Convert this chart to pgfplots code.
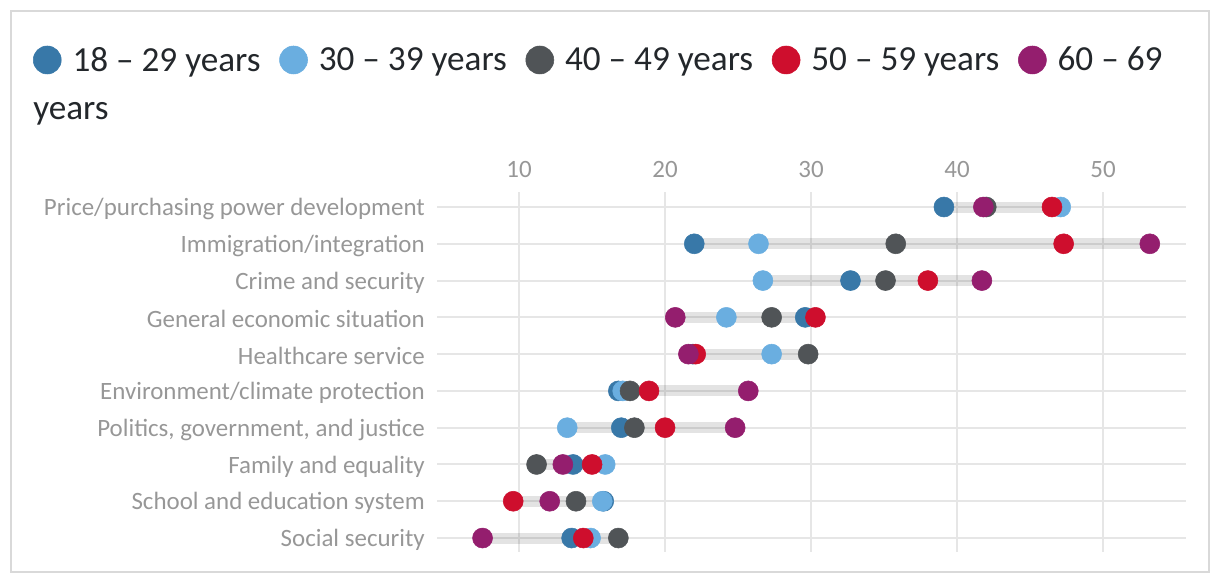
\documentclass[border=0pt]{standalone}
\usepackage{pgfplots}
\pgfplotsset{compat=1.18}
\usepackage{pgfplotstable}
\usepackage{fontspec}
\setmainfont{Carlito}
\definecolor{cA}{HTML}{3878A8}
\definecolor{cB}{HTML}{6AAEE0}
\definecolor{cC}{HTML}{505457}
\definecolor{cD}{HTML}{CE0E2D}
\definecolor{cE}{HTML}{941E6E}
\definecolor{gridc}{HTML}{E6E6E6}
\definecolor{labc}{HTML}{979797}
\definecolor{legc}{HTML}{23272B}
\pgfplotstableread{
row a b c d e
1 39.1 47.1 42.0 46.5 41.8
2 22.0 26.4 35.8 47.3 53.2
3 32.7 26.7 35.1 38.0 41.7
4 29.6 24.2 27.3 30.3 20.7
5 21.9 27.3 29.8 22.1 21.6
6 16.8 17.1 17.6 18.9 25.7
7 17.0 13.3 17.9 20.0 24.8
8 13.7 15.9 11.2 15.0 13.0
9 15.8 15.7 13.9 9.6 12.1
10 13.6 14.9 16.8 14.4 7.5
}\datatable
\begin{document}
\begin{tikzpicture}
\path (0,0) rectangle (915pt,439.5pt);
\draw[color=black!15, line width=1.5pt] (8.25pt,10.5pt) rectangle (906.75pt,431.25pt);
\begin{axis}[
  at={(327.75pt,25.5pt)}, anchor=south west,
  scale only axis, width=561.75pt, height=270pt,
  xmin=4.38, xmax=55.68, ymin=0.592, ymax=10.38, y dir=reverse,
  xtick={10,20,30,40,50}, ytick={1,...,10},
  yticklabels={Price/purchasing power development, Immigration/integration, Crime and security, General economic situation, Healthcare service, Environment/climate protection, {Politics, government, and justice}, Family and equality, School and education system, Social security},
  xticklabel pos=top,
  axis line style={draw=none}, tick style={draw=none}, major tick length=0pt,
  grid=major, grid style={gridc, line width=1.5pt},
  /pgf/number format/assume math mode=true,
  ticklabel style={font=\fontsize{18.7}{22}\selectfont, text=labc},
  yticklabel style={inner sep=0pt, xshift=-9pt, yshift=-1.5pt},
  xticklabel style={inner sep=0pt, anchor=base, yshift=11.25pt},
  clip=false,
  legend columns=5,
  legend style={draw=none, fill=none, at={(-0.5394,1.3667)}, anchor=west, inner sep=0pt, outer sep=0pt,
    font=\fontsize{26.4}{30}\selectfont, text=legc,
    nodes={inner sep=0pt},
    /tikz/every odd column/.append style={column sep=8.25pt},
    /tikz/every even column/.append style={column sep=14pt}},
  legend image code/.code={\fill[#1] (10.5pt,0pt) circle (10.5pt);},
]
\pgfplotsset{barstyle/.style={black, opacity=0.11, line width=8.25pt, forget plot}}
\addplot[barstyle] coordinates {(39.1,1) (47.1,1)};
\addplot[barstyle] coordinates {(22.0,2) (53.2,2)};
\addplot[barstyle] coordinates {(26.7,3) (41.7,3)};
\addplot[barstyle] coordinates {(20.7,4) (30.3,4)};
\addplot[barstyle] coordinates {(21.6,5) (29.8,5)};
\addplot[barstyle] coordinates {(16.8,6) (25.7,6)};
\addplot[barstyle] coordinates {(13.3,7) (24.8,7)};
\addplot[barstyle] coordinates {(11.2,8) (15.9,8)};
\addplot[barstyle] coordinates {(9.6,9) (15.8,9)};
\addplot[barstyle] coordinates {(7.5,10) (16.8,10)};
\addplot[only marks, mark=*, mark size=7.5pt, cA, mark options={draw=none, fill=cA}] table[x=a, y=row] {\datatable};
\addlegendentry{18 – 29 years}
\addplot[only marks, mark=*, mark size=7.5pt, cB, mark options={draw=none, fill=cB}] table[x=b, y=row] {\datatable};
\addlegendentry{30 – 39 years}
\addplot[only marks, mark=*, mark size=7.5pt, cC, mark options={draw=none, fill=cC}] table[x=c, y=row] {\datatable};
\addlegendentry{40 – 49 years}
\addplot[only marks, mark=*, mark size=7.5pt, cD, mark options={draw=none, fill=cD}] table[x=d, y=row] {\datatable};
\addlegendentry{50 – 59 years}
\addplot[only marks, mark=*, mark size=7.5pt, cE, mark options={draw=none, fill=cE}] table[x=e, y=row] {\datatable};
\addlegendentry{60 – 69}
\end{axis}
\node[anchor=base west, inner sep=0pt, text=legc, font=\fontsize{26.4}{30}\selectfont] at (24.75pt,349.5pt) {years};
\end{tikzpicture}
\end{document}
